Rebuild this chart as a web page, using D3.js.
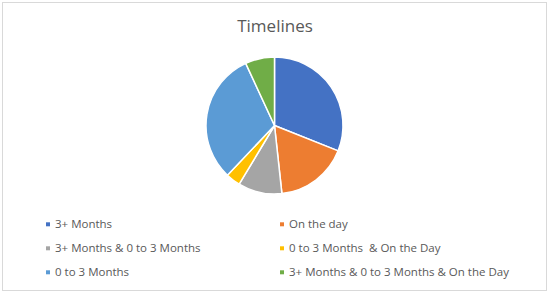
<!DOCTYPE html>
<html>
<head>
<meta charset="utf-8">
<script src="https://cdn.jsdelivr.net/npm/d3@7"></script>
<style>
  body { margin: 0; background: #fff; }
  svg { display: block; font-family: "Open Sans", sans-serif; }
</style>
</head>
<body>
<svg id="chart" width="550" height="294"></svg>
<script>
// slices, in drawing order (clockwise from 12 o'clock)
const categories = [
  "3+ Months",
  "On the day",
  "3+ Months & 0 to 3 Months",
  "0 to 3 Months  & On the Day",
  "0 to 3 Months",
  "3+ Months & 0 to 3 Months & On the Day"
];
const counts = [9, 5, 3, 1, 9, 2];
const colors = ["#4472C4", "#ED7D31", "#A5A5A5", "#FFC000", "#5B9BD5", "#70AD47"];

const width = 550, height = 294;
const svg = d3.select("#chart");

// outer frame
svg.append("rect")
  .attr("x", 2.5).attr("y", 2.5)
  .attr("width", 544).attr("height", 288)
  .attr("fill", "#fff")
  .attr("stroke", "#d9d9d9")
  .attr("stroke-width", 1);

svg.append("text")
  .attr("x", 275).attr("y", 31.5)
  .attr("text-anchor", "middle")
  .attr("font-size", 17)
  .attr("fill", "#595959")
  .text("Timelines");

const data = categories.map((c, i) => ({ key: c, value: counts[i], color: colors[i] }));

const pie = d3.pie().sort(null).value(d => d.value);
const arc = d3.arc().innerRadius(0).outerRadius(68.5);

const g = svg.append("g").attr("transform", "translate(274.5,125.5)");
g.selectAll("path")
  .data(pie(data))
  .join("path")
  .attr("d", arc)
  .attr("fill", d => d.data.color)
  .attr("stroke", "#fff")
  .attr("stroke-width", 1.5)
  .attr("stroke-linejoin", "round");

// legend: 2 columns x 3 rows
const col = d3.scaleOrdinal().domain([0, 1]).range([46, 280]);
const row = d3.scaleLinear().domain([0, 1]).range([224.3, 248.3]);

const legend = svg.append("g");
const items = legend.selectAll("g")
  .data(data)
  .join("g")
  .attr("transform", (d, i) => `translate(${col(i % 2)},${row(Math.floor(i / 2))})`);

items.append("rect")
  .attr("x", 0).attr("y", -2)
  .attr("width", 4).attr("height", 4)
  .attr("fill", d => d.color);

items.append("text")
  .attr("x", 9).attr("y", 4)
  .attr("font-size", 11.5)
  .attr("fill", "#595959")
  .style("white-space", "pre")
  .text(d => d.key);
</script>
</body>
</html>
